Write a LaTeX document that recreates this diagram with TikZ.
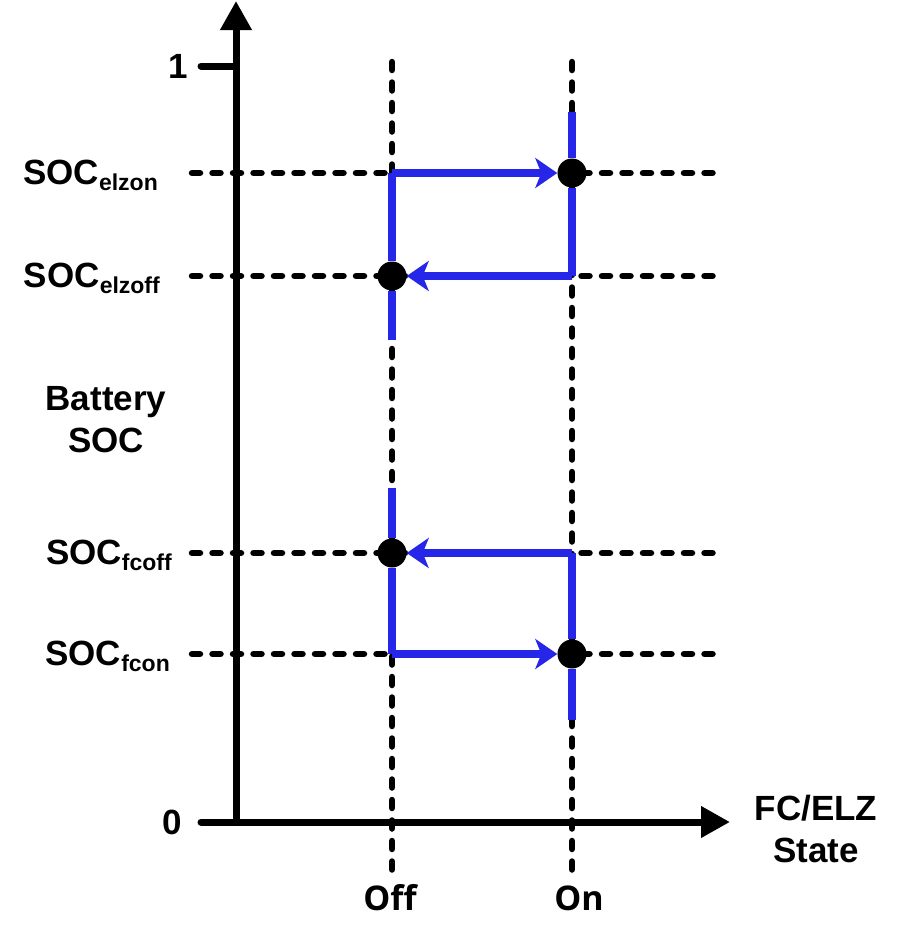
\documentclass[tikz,border=0pt]{standalone}
\usepackage{fontspec}
\setmainfont{Liberation Sans}
\newfontfamily\offon{Open Sans}
\usetikzlibrary{arrows.meta}
\definecolor{hblue}{RGB}{38,38,232}
\tikzset{
  grid/.style={black,line width=6.5pt,dash pattern=on 8pt off 12.5pt,line cap=round},
  hyst/.style={hblue,line width=8pt},
  harrow/.style={hyst,-{Stealth[length=22pt,width=30pt,inset=6pt]}},
  axis/.style={black,line width=7pt,-{Triangle[length=29pt,width=30pt]}},
  dot/.style={circle,fill=black,inner sep=0pt,minimum size=29pt},
  lbl/.style={inner sep=0pt,font=\fontsize{35}{40}\selectfont\bfseries},
  oflbl/.style={inner sep=0pt,font=\offon\fontsize{34}{40}\selectfont\bfseries}
}
\newcommand{\socsub}[1]{SOC\raisebox{-6pt}{\fontsize{23}{23}\selectfont #1}}
\begin{document}
\begin{tikzpicture}[x=1pt,y=-1pt]
\useasboundingbox (0,0) rectangle (898,937);
% grid
\coordinate (offtop) at (392,62);
\coordinate (offbot) at (392,872);
\coordinate (ontop) at (572,62);
\coordinate (onbot) at (572,872);
\draw[grid] (offtop) -- (offbot);
\draw[grid] (ontop) -- (onbot);
\foreach \y/\n in {173/a,276/b,553/c,654/d}{
  \coordinate (l\n) at (192,\y);
  \coordinate (r\n) at (714,\y);
  \draw[grid] (l\n) -- (r\n);
}
% dots
\node[dot] (n1) at (572,173) {};
\node[dot] (n2) at (392,276) {};
\node[dot] (n3) at (392,553) {};
\node[dot] (n4) at (572,654) {};
% hysteresis upper
\coordinate (u1) at (392,340);
\coordinate (u2) at (392,173);
\coordinate (u3) at (572,112);
\coordinate (u4) at (572,276);
\draw[hyst] (u1) -- (n2);
\draw[hyst] (u2) -- (n2);
\draw[hyst] (u3) -- (n1);
\draw[hyst] (n1) -- (u4);
\draw[harrow] (u2) -- (n1);
\draw[harrow] (u4) -- (n2);
% hysteresis lower
\coordinate (w1) at (392,488);
\coordinate (w2) at (392,654);
\coordinate (w3) at (572,553);
\coordinate (w4) at (572,720);
\draw[hyst] (w1) -- (n3);
\draw[hyst] (n3) -- (w2);
\draw[hyst] (w3) -- (n4);
\draw[hyst] (n4) -- (w4);
\draw[harrow] (w2) -- (n4);
\draw[harrow] (w3) -- (n3);
% axes
\coordinate (o) at (236,822);
\coordinate (ybot) at (236,825);
\coordinate (ytip) at (236,1);
\coordinate (xtip) at (730,822);
\coordinate (t1a) at (201,66);
\coordinate (t1b) at (236,66);
\coordinate (t0a) at (201,822);
\draw[black,line width=7pt,line cap=round] (t1a) -- (t1b);
\draw[black,line width=7pt,line cap=round] (t0a) -- (o);
\draw[axis] (ybot) -- (ytip);
\draw[axis] (o) -- (xtip);
% labels
\node[lbl,anchor=base] (one) at (178,78) {1};
\node[lbl,anchor=base] (zero) at (172,834) {0};
\node[lbl,anchor=base east] (s1) at (158,184) {\socsub{elzon}};
\node[lbl,anchor=base east] (s2) at (160,287) {\socsub{elzoff}};
\node[lbl,anchor=base east] (s3) at (172,564) {\socsub{fcoff}};
\node[lbl,anchor=base east] (s4) at (170,665) {\socsub{fcon}};
\node[lbl,anchor=base] (bat) at (106,410) {Battery};
\node[lbl,anchor=base] (soc) at (106,452) {SOC};
\node[lbl,anchor=base] (fc) at (816,820) {FC/ELZ};
\node[lbl,anchor=base] (st) at (816,862) {State};
\node[oflbl,anchor=base] (off) at (390,910) {Off};
\node[oflbl,anchor=base] (on) at (579,910) {On};
\end{tikzpicture}
\end{document}
